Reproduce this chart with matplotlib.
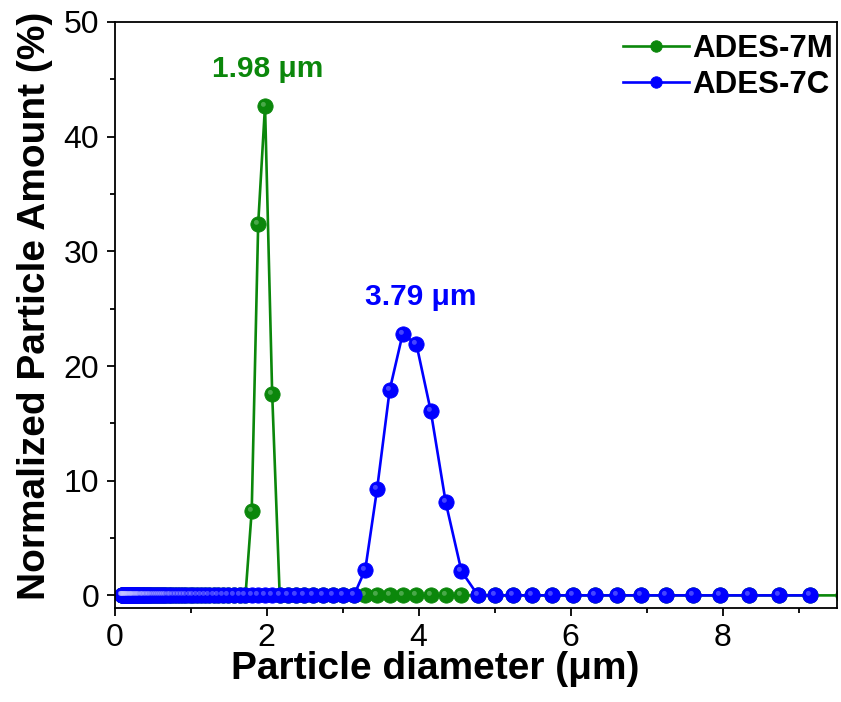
#!/usr/bin/env python3

import matplotlib as mpl
mpl.use('Agg')
import matplotlib.pyplot as plt
from matplotlib.markers import MarkerStyle
from matplotlib.transforms import Affine2D

#-----------------------------------------------------------------------------#
# Data

# Particle diameter bins (um), shared by both samples
diameter_bins = [
	0.097, 0.102, 0.106, 0.111, 0.117, 0.122, 0.128, 0.134, 0.141, 0.147,
	0.154, 0.162, 0.169, 0.177, 0.186, 0.195, 0.204, 0.213, 0.224, 0.234,
	0.245, 0.257, 0.269, 0.282, 0.295, 0.309, 0.324, 0.339, 0.356, 0.372,
	0.390, 0.409, 0.428, 0.448, 0.470, 0.492, 0.515, 0.540, 0.566, 0.592,
	0.621, 0.650, 0.681, 0.713, 0.747, 0.783, 0.820, 0.859, 0.900, 0.942,
	0.987, 1.034, 1.083, 1.135, 1.188, 1.245, 1.304, 1.366, 1.431, 1.499,
	1.570, 1.645, 1.723, 1.805, 1.890, 1.980, 2.074, 2.173, 2.276, 2.384,
	2.497, 2.616, 2.740, 2.870, 3.006, 3.149, 3.299, 3.455, 3.620, 3.791,
	3.972, 4.160, 4.358, 4.565, 4.782, 5.009, 5.247, 5.496, 5.757, 6.030,
	6.317, 6.617, 6.931, 7.260, 7.605, 7.966, 8.345, 8.741, 9.156, 9.591,
]

# Normalized particle amount (%) per bin
ades_7m = [0.0] * 63 + [7.4, 32.4, 42.7, 17.6] + [0.0] * 33
ades_7c = [0.0] * 76 + [2.25, 9.3, 17.9, 22.8, 21.9, 16.1, 8.1, 2.1] + [0.0] * 15

series_names = ['ADES-7M', 'ADES-7C']
peak_labels = ['1.98 \u03bcm', '3.79 \u03bcm']
peak_label_pos = [(2.02, 45.9), (4.03, 26.0)]

#-----------------------------------------------------------------------------#

plt.rcParams['font.family'] = ['Liberation Sans', 'DejaVu Sans']

green = '#0b870b'
blue = '#0000ff'

fig = plt.figure(figsize=(8.41, 7.02), dpi=100)
ax = fig.add_axes([0.1362, 0.1339, 0.8585, 0.8348])

# small offset dot on top of each marker, gives the ball look
shine = MarkerStyle('o', transform=Affine2D().scale(0.32).translate(-0.14, 0.14))

for xs, ys, color, light, name in [
		(diameter_bins, ades_7m, green, '#bfe6bf', series_names[0]),
		(diameter_bins[:len(ades_7c)], ades_7c, blue, '#c8c8ff', series_names[1])]:
	ax.plot(xs, ys, '-o', color=color, lw=1.9, markersize=11,
	        markeredgecolor=color, markeredgewidth=0.6, label=name)
	ax.plot(xs, ys, linestyle='none', marker=shine, markersize=11,
	        color=light, markeredgewidth=0, alpha=0.35)

for (tx, ty), text, color in zip(peak_label_pos, peak_labels, [green, blue]):
	ax.text(tx, ty, text, color=color, fontsize=21.5, fontweight='bold',
	        ha='center', va='center')

ax.set_xlim(0, 9.5)
ax.set_ylim(-1.1, 50)
ax.set_xticks([0, 2, 4, 6, 8])
ax.set_xticks([1, 3, 5, 7, 9], minor=True)
ax.set_yticks([0, 10, 20, 30, 40, 50])
ax.set_yticks([5, 15, 25, 35, 45], minor=True)
ax.tick_params(which='both', direction='out', width=1.3, labelsize=23,
               top=False, right=False)
ax.tick_params(which='major', length=6, pad=5)
ax.tick_params(which='minor', length=3.5)
for spine in ax.spines.values():
	spine.set_linewidth(1.3)

ax.set_xlabel('Particle diameter (\u03bcm)', fontsize=28, fontweight='bold')
ax.set_ylabel('Normalized Particle Amount (%)', fontsize=28, fontweight='bold')
ax.xaxis.set_label_coords(0.444, -0.074)
ax.yaxis.set_label_coords(-0.085, 0.515)

leg = ax.legend(loc='upper right', bbox_to_anchor=(1.0194, 1.0085),
                frameon=False, markerscale=0.75,
                prop={'size': 22.5, 'weight': 'bold'}, handlelength=2.1,
                handletextpad=0.12, borderaxespad=0.15, labelspacing=0.2)

fig.savefig('out.png', dpi=100)
